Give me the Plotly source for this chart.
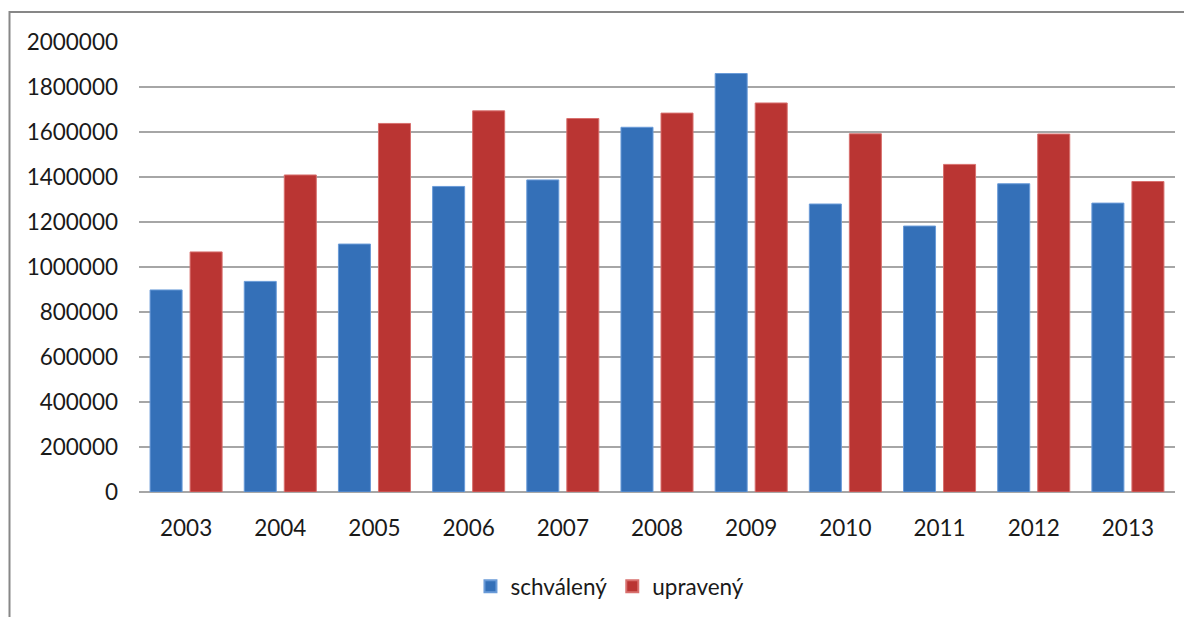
import plotly.graph_objects as go

years = ["2003", "2004", "2005", "2006", "2007", "2008", "2009", "2010", "2011", "2012", "2013"]
schvaleny = [898000, 936000, 1102000, 1358000, 1387000, 1621000, 1860000, 1280000, 1182000, 1370000, 1284000]
upraveny = [1067000, 1409000, 1638000, 1694000, 1660000, 1684000, 1729000, 1592000, 1456000, 1591000, 1380000]
y_ticks = [0, 200000, 400000, 600000, 800000, 1000000, 1200000, 1400000, 1600000, 1800000, 2000000]

FONT = "Lato, 'Open Sans', sans-serif"
FS = 22.5

fig = go.Figure()
fig.add_trace(go.Bar(
    x=years, y=schvaleny, name="schválený",
    marker=dict(color="#3470B8", line=dict(color="#6A9BD8", width=1)),
))
fig.add_trace(go.Bar(
    x=years, y=upraveny, name="upravený",
    marker=dict(color="#BA3533", line=dict(color="#D8706E", width=1)),
))

fig.update_layout(
    width=1192, height=617,
    margin=dict(l=131, r=25, t=34, b=133),
    paper_bgcolor="white", plot_bgcolor="white",
    barmode="group", bargap=0.15, bargroupgap=0.2,
    font=dict(family=FONT, size=FS, color="#1a1a1a"),
    showlegend=True,
    legend=dict(
        orientation="h", xref="container", yref="container",
        x=0.505, xanchor="center", y=0.062, yanchor="middle",
        font=dict(family=FONT, size=FS, color="#1a1a1a"),
        itemsizing="constant",
    ),
    xaxis=dict(
        showgrid=False, showline=False, zeroline=False,
        ticks="", ticklabelstandoff=20,
        tickfont=dict(family=FONT, size=FS, color="#1a1a1a"),
    ),
    yaxis=dict(
        range=[0, 2000000], tickvals=y_ticks,
        ticktext=[str(v) for v in y_ticks],
        showgrid=True, gridcolor="#A6A6A6", gridwidth=1.5,
        zeroline=True, zerolinecolor="#A6A6A6", zerolinewidth=1.5,
        showline=False, ticks="", ticklabelstandoff=20,
        tickfont=dict(family=FONT, size=FS, color="#1a1a1a"),
    ),
    shapes=[
        dict(type="rect", xref="paper", yref="paper",
             x0=-0.125, x1=1.2, y0=-0.4, y1=1.0667,
             line=dict(color="#878787", width=2), fillcolor="rgba(0,0,0,0)",
             layer="below"),
    ],
)

fig.write_html("out.html")
